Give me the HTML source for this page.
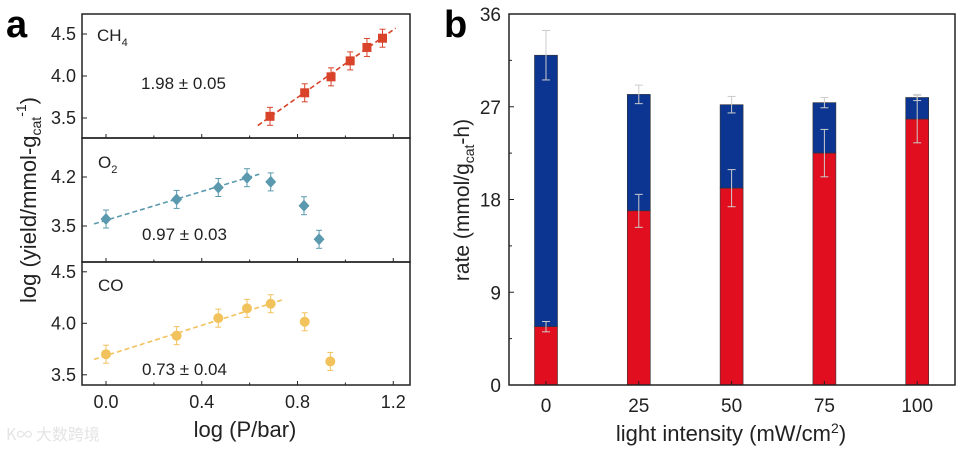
<!DOCTYPE html>
<html><head><meta charset="utf-8"><style>
body{margin:0;background:#fff;}
svg{font-family:"Liberation Sans",Arial,sans-serif;}
</style></head><body>
<svg width="976" height="450" viewBox="0 0 976 450">
<g id="pa"></g>
<g id="pb"></g>
<text x="6" y="37" font-size="38" font-weight="bold">a</text>
<text x="444" y="37" font-size="38" font-weight="bold">b</text>
<text x="245" y="437" font-size="22" text-anchor="middle" fill="#222">log (P/bar)</text>
<text transform="translate(36,200) rotate(-90)" font-size="22" text-anchor="middle" fill="#222">log (yield/mmol-g<tspan font-size="14" dy="5">cat</tspan><tspan font-size="14" dy="-15">-1</tspan><tspan dy="10">)</tspan></text>
<text x="731" y="441" font-size="22" text-anchor="middle" fill="#222">light intensity (mW/cm<tspan font-size="14" dy="-8">2</tspan><tspan dy="8">)</tspan></text>
<text transform="translate(469,200) rotate(-90)" font-size="21" text-anchor="middle" fill="#222">rate (mmol/g<tspan font-size="14" dy="5">cat</tspan><tspan dy="-5">-h)</tspan></text>
<text x="6" y="440" font-size="16" fill="#e4e4e4" font-family="'Noto Sans CJK SC',sans-serif">K∞ 大数跨境</text>
</svg>
<script>
const NS="http://www.w3.org/2000/svg";
// Panel a data
const pX=[0,0.295,0.469,0.589,0.688,0.83,0.937];
const ch4X=[0.685,0.83,0.94,1.02,1.09,1.155];
const ch4Y=[3.52,3.80,3.99,4.18,4.34,4.45];
const o2X=[0,0.295,0.469,0.589,0.688,0.827,0.89];
const o2Y=[3.60,3.88,4.05,4.19,4.13,3.79,3.31];
const coY=[3.70,3.88,4.05,4.145,4.19,4.015,3.63];
const xTicksA=[0.0,0.4,0.8,1.2];
// Panel b data
const cats=["0","25","50","75","100"];
const redVals=[5.66,16.9,19.1,22.5,25.8];
const totalVals=[32.0,28.2,27.2,27.4,27.9];
const redErr=[0.5,1.6,1.8,2.3,2.3];
const totErr=[2.4,0.9,0.8,0.5,0.3];
const yTicksB=[0,9,18,27,36];

function el(p,t,a){const e=document.createElementNS(NS,t);for(const k in a)e.setAttribute(k,a[k]);p.appendChild(e);return e;}
const pa=document.getElementById('pa'),pb=document.getElementById('pb');
const L=82,R=410;
const xa=v=>106+v*239.4;
const panels=[
 {top:14,bot:138,y:v=>76-(v-4.0)*84,ticks:[3.5,4.0,4.5],lab:["3.5","4.0","4.5"],name:"ch4"},
 {top:138,bot:262,y:v=>226-(v-3.5)*70,ticks:[3.5,4.2],lab:["3.5","4.2"],name:"o2"},
 {top:262,bot:385,y:v=>323.3-(v-4.0)*103,ticks:[3.5,4.0,4.5],lab:["3.5","4.0","4.5"],name:"co"}];
panels.forEach(p=>{
 const r=el(pa,'rect',{x:L,y:p.top,width:R-L,height:p.bot-p.top,fill:'none',stroke:'#222','stroke-width':1.5});
 
 
 p.ticks.forEach((t,i)=>{const yy=p.y(t);
  el(pa,'line',{x1:L,x2:L+5,y1:yy,y2:yy,stroke:'#222'});
  const tx=el(pa,'text',{x:L-6,y:yy+6,'font-size':18,'text-anchor':'end',fill:'#222'});tx.textContent=p.lab[i];
  
  });
 xTicksA.forEach(t=>el(pa,'line',{x1:xa(t),x2:xa(t),y1:p.bot,y2:p.bot-4,stroke:'#222'}));
 [0.2,0.6,1.0].forEach(t=>el(pa,'line',{x1:xa(t),x2:xa(t),y1:p.bot,y2:p.bot-2.5,stroke:'#222'}));
});
xTicksA.forEach(t=>{const tx=el(pa,'text',{x:xa(t),y:408,'font-size':18,'text-anchor':'middle',fill:'#222'});tx.textContent=t.toFixed(1);
 
 });
function series(xs,ys,p,col,shape,name,fit){
 el(pa,'line',{x1:xa(fit[0]),y1:p.y(fit[1]),x2:xa(fit[2]),y2:p.y(fit[3]),stroke:col,'stroke-width':1.6,'stroke-dasharray':'5,3'});
 xs.forEach((x,i)=>{const cx=xa(x),cy=p.y(ys[i]);
  el(pa,'line',{x1:cx,x2:cx,y1:cy-9,y2:cy+9,stroke:col,'stroke-width':1});
  el(pa,'line',{x1:cx-3,x2:cx+3,y1:cy-9,y2:cy-9,stroke:col});el(pa,'line',{x1:cx-3,x2:cx+3,y1:cy+9,y2:cy+9,stroke:col});
  let m;
  if(shape==='s')m=el(pa,'rect',{x:cx-4.5,y:cy-4.5,width:9,height:9,fill:col});
  else if(shape==='d')m=el(pa,'polygon',{points:`${cx},${cy-6} ${cx+5.5},${cy} ${cx},${cy+6} ${cx-5.5},${cy}`,fill:col});
  else m=el(pa,'circle',{cx:cx,cy:cy,r:5,fill:col});
  
  
 });
}
series(ch4X,ch4Y,panels[0],'#d8432a','s','ch4',[0.634,3.41,1.21,4.57]);
series(o2X,o2Y,panels[1],'#5b9aae','d','o2',[-0.05,3.53,0.64,4.24]);
series(pX,coY,panels[2],'#f2c25c','c','co',[-0.05,3.65,0.74,4.23]);
function txt(p,x,y,s,n,sub){const t=el(p,'text',{x:x,y:y,'font-size':17,fill:'#222'});t.innerHTML=s+(sub?`<tspan font-size="11" dy="5">${sub}</tspan>`:'');
 
 }
txt(pa,97,41,'CH','ch4-label','4');txt(pa,141,89,'1.98 ± 0.05','ch4-slope');
txt(pa,98,168,'O','o2-label','2');txt(pa,142,240,'0.97 ± 0.03','o2-slope');
txt(pa,98,291,'CO','co-label');txt(pa,142,375,'0.73 ± 0.04','co-slope');

// Panel b
const BL=509,BR=955,BT=14,BB=385;
const yb=v=>BB-v*(BB-BT)/36;
const xb=i=>546+i*92.8;
cats.forEach((c,i)=>{const x=xb(i),w=23;
 const rb=el(pb,'rect',{x:x-w/2,y:yb(totalVals[i]),width:w,height:yb(redVals[i])-yb(totalVals[i]),fill:'#0b3590',stroke:'#333','stroke-width':0.6});
 
 
 const rr=el(pb,'rect',{x:x-w/2,y:yb(redVals[i]),width:w,height:BB-yb(redVals[i]),fill:'#e00e1e',stroke:'#333','stroke-width':0.6});
 
 
 [[totalVals[i],totErr[i]],[redVals[i],redErr[i]]].forEach(([v,e])=>{
  el(pb,'line',{x1:x,x2:x,y1:yb(v-e),y2:yb(v+e),stroke:'#ccc','stroke-width':1});
  el(pb,'line',{x1:x-4,x2:x+4,y1:yb(v-e),y2:yb(v-e),stroke:'#ccc'});
  el(pb,'line',{x1:x-4,x2:x+4,y1:yb(v+e),y2:yb(v+e),stroke:'#ccc'});});
 el(pb,'line',{x1:x,x2:x,y1:BB,y2:BB-4,stroke:'#222'});
 const t=el(pb,'text',{x:x,y:412,'font-size':19,'text-anchor':'middle',fill:'#222'});t.textContent=c;
 
 
});
yTicksB.forEach(v=>{el(pb,'line',{x1:BL,x2:BL+5,y1:yb(v),y2:yb(v),stroke:'#222'});
 if(v<36)el(pb,'line',{x1:BL,x2:BL+3,y1:yb(v+4.5),y2:yb(v+4.5),stroke:'#222'});
 const t=el(pb,'text',{x:BL-8,y:yb(v)+7,'font-size':19,'text-anchor':'end',fill:'#222'});t.textContent=v;
 
 });
const fr=el(pb,'rect',{x:BL,y:BT,width:BR-BL,height:BB-BT,fill:'none',stroke:'#222','stroke-width':1.5});


</script>
</body></html>
